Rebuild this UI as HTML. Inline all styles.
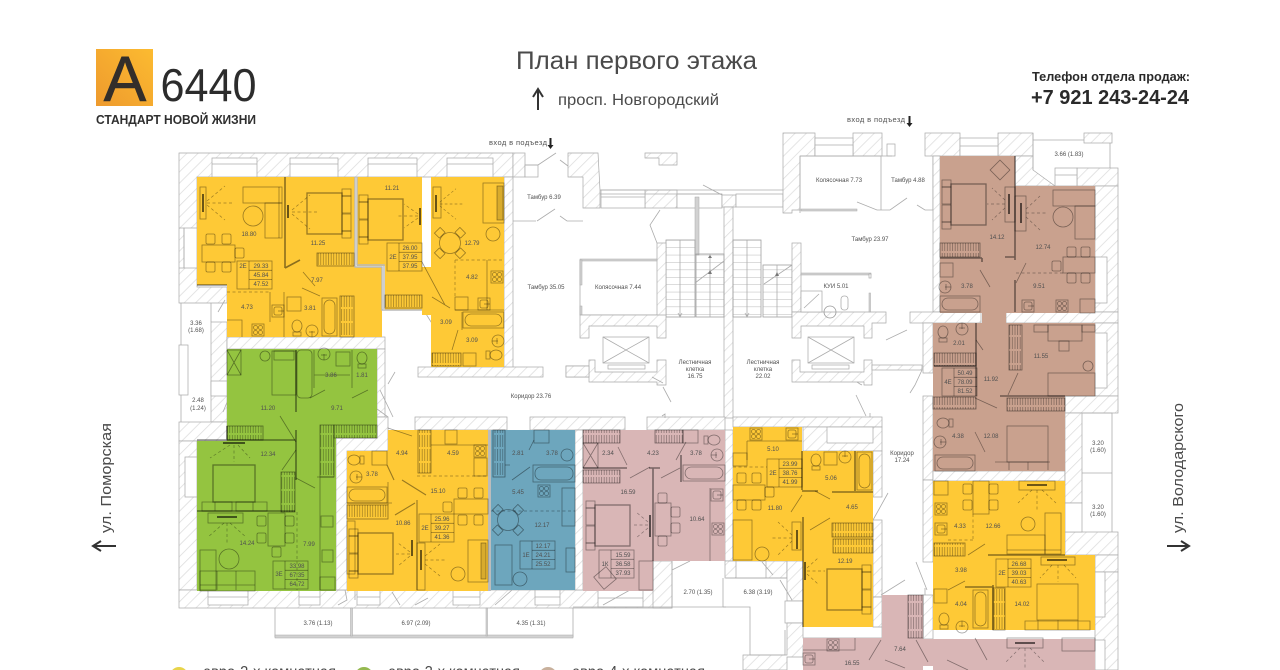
<!DOCTYPE html>
<html lang="ru"><head><meta charset="utf-8"><title>План первого этажа</title>
<style>
html,body{margin:0;padding:0;background:#fff;width:1280px;height:670px;overflow:hidden}
svg{display:block}
text{font-family:"Liberation Sans Narrow","Liberation Sans",sans-serif;fill:#505050;text-anchor:middle;font-size:6px}
.s{font-family:"Liberation Sans",sans-serif}
.w{fill:url(#h);stroke:#a8a8a8;stroke-width:.7}
.r{fill:#fff;stroke:#a8a8a8;stroke-width:.7}
.l{fill:none;stroke:#acacac;stroke-width:.8}
.g{fill:#d2d2d2;stroke:#a8a8a8;stroke-width:.5}
.f{fill:none;stroke:#000;stroke-opacity:.4;stroke-width:.8}
.t{fill:none;stroke:#000;stroke-opacity:.45;stroke-width:1.6}
.d{fill:none;stroke:#000;stroke-opacity:.38;stroke-width:.7;stroke-dasharray:3 2.5}
.b{fill:none;stroke:#000;stroke-opacity:.65;stroke-width:1.8}
.wd{fill:url(#wa);stroke:#000;stroke-opacity:.45;stroke-width:.8}
</style></head><body>
<svg width="1280" height="670" viewBox="0 0 1280 670" xmlns="http://www.w3.org/2000/svg">
<defs>
<pattern id="h" patternUnits="userSpaceOnUse" width="8" height="8" patternTransform="rotate(45)"><rect width="8" height="8" fill="#fff"/><line x1="0" y1="0" x2="0" y2="8" stroke="#dcdcdc" stroke-width="1.5"/></pattern>
<pattern id="wa" patternUnits="userSpaceOnUse" width="2.6" height="14"><line x1="1" y1="1" x2="1" y2="13" stroke="#000" stroke-opacity=".4" stroke-width=".7"/></pattern>
<pattern id="st" patternUnits="userSpaceOnUse" width="29" height="7.4" x="0" y="240"><line x1="0" y1="0" x2="29" y2="0" stroke="#a0a0a0" stroke-width=".8"/></pattern>
<linearGradient id="lg" x1="0" y1="1" x2="1" y2="0"><stop offset="0" stop-color="#ee9a2e"/><stop offset="1" stop-color="#fcbb30"/></linearGradient>
<g id="bed"><rect width="35" height="41" stroke-width="1.3"/><rect x="35" y="3" width="9" height="17"/><rect x="35" y="21" width="9" height="17"/><rect x="35" y="-4" width="9" height="7"/><rect x="35" y="38" width="9" height="7"/></g>
<g id="bath"><rect width="40" height="16"/><rect x="2" y="2" width="36" height="12" rx="6"/></g>
<g id="baths"><rect width="15" height="38"/><rect x="2" y="2" width="11" height="34" rx="5.5"/></g>
<g id="st4"><rect width="12" height="12"/><circle cx="3.5" cy="3.5" r="2"/><circle cx="8.5" cy="3.5" r="2"/><circle cx="3.5" cy="8.5" r="2"/><circle cx="8.5" cy="8.5" r="2"/></g>
<g id="sk"><rect width="12" height="12"/><rect x="2" y="2" width="8" height="8" rx="2"/><line x1="6" y1="6" x2="12" y2="6"/></g>
<g id="tl"><ellipse cx="0" cy="0" rx="5" ry="6"/><rect x="-4" y="6" width="8" height="4"/></g>
<g id="rs"><circle cx="0" cy="0" r="6"/><line x1="0" y1="0" x2="0" y2="6"/><line x1="-3" y1="1" x2="3" y2="1"/></g>
<g id="ch"><rect width="9" height="10" rx="1.5"/></g>
<g id="tb"><rect width="35" height="28"/><line x1="12" y1="0" x2="12" y2="28"/><line x1="12" y1="9.3" x2="35" y2="9.3"/><line x1="12" y1="18.6" x2="35" y2="18.6"/></g>
<g id="rt"><circle cx="0" cy="0" r="10.5"/><rect x="-4" y="-18" width="8" height="7" transform="rotate(45)"/><rect x="-4" y="-18" width="8" height="7" transform="rotate(135)"/><rect x="-4" y="-18" width="8" height="7" transform="rotate(225)"/><rect x="-4" y="-18" width="8" height="7" transform="rotate(315)"/></g>
<g id="fanR"><path class="d" d="M2 0L28 0M2 -2L20 -17M2 2L20 17"/></g>
</defs>
<rect width="1280" height="670" fill="#fff"/>

<!-- walls west block -->
<path class="w" d="M179 153H513V177H197V287H227V303H179Z"/>
<rect class="w" x="504" y="177" width="9" height="192"/>
<rect class="w" x="513" y="153" width="12" height="24"/>
<rect class="r" x="525" y="165" width="13" height="12"/>
<path class="w" d="M568 153H598L600 190V208H583V177H568Z"/>
<path class="w" d="M645 153H677V165H659V158H645Z"/>
<rect class="w" x="645" y="190" width="32" height="18"/>
<rect class="r" x="601" y="190" width="44" height="18"/><line class="l" x1="601" y1="197" x2="645" y2="197"/>
<rect class="r" x="677" y="194" width="45" height="14"/>
<rect class="g" x="695" y="197" width="4" height="58"/>
<path class="l" d="M600 190H783M600 194H722"/>
<rect class="w" x="722" y="195" width="14" height="12"/>
<rect class="w" x="724" y="207" width="9" height="211"/>
<rect class="r" x="736" y="194" width="47" height="13"/>
<path class="w" d="M783 133H815V156H800V210H792V213H783Z"/>
<rect class="w" x="853" y="133" width="29" height="23"/>
<rect class="r" x="815" y="138" width="38" height="18"/><rect class="r" x="815" y="145" width="38" height="11"/>
<rect class="r" x="887" y="144" width="8" height="12"/>
<path class="l" d="M800 156H881V210M882 156H892M933 156V210M800 156V213"/>
<rect class="g" x="801" y="209" width="56" height="2"/><path class="l" d="M857 202L877 210H890L907 198"/><path class="l" d="M917 205L925 210H933"/>
<!-- west lower -->
<rect class="w" x="211" y="322" width="16" height="100"/>
<rect class="w" x="179" y="422" width="48" height="19"/>
<rect class="w" x="179" y="441" width="18" height="149"/>
<rect class="w" x="179" y="590" width="493" height="18"/>
<path class="l" d="M181 303V422M211 303V322"/>
<rect class="r" x="179" y="345" width="9" height="50"/>
<rect class="r" x="211" y="381" width="16" height="15"/>
<rect class="r" x="184" y="228" width="13" height="40"/><path class="l" d="M179 228H184V268H179"/>
<rect class="r" x="185" y="457" width="12" height="40"/>
<rect class="w" x="227" y="337" width="158" height="12"/>
<rect class="w" x="377" y="349" width="8" height="68"/>
<rect class="w" x="418" y="367" width="125" height="10"/>
<rect class="w" x="566" y="366" width="23" height="11"/>
<!-- top windows -->
<g>
<rect class="r" x="212" y="158" width="45" height="19"/><rect class="r" x="290" y="158" width="48" height="19"/><rect class="r" x="368" y="158" width="49" height="19"/><rect class="r" x="447" y="158" width="46" height="19"/>
<path class="l" d="M212 164H257M290 164H338M368 164H417M447 164H493"/>
<rect class="r" x="208" y="590" width="40" height="15"/><rect class="r" x="299" y="590" width="21" height="15"/><rect class="r" x="357" y="590" width="23" height="15"/><rect class="r" x="453" y="590" width="27" height="15"/><rect class="r" x="535" y="590" width="25" height="15"/><rect class="r" x="598" y="590" width="45" height="17"/>
<path class="l" d="M208 597H248M299 597H320M357 597H380M453 597H480M535 597H560M598 598H643"/>
</g>
<!-- south block top -->
<rect class="w" x="415" y="417" width="92" height="13"/>
<path class="w" d="M377 417H388V451H347V590H336V438H377Z"/>
<rect class="w" x="530" y="417" width="95" height="13"/>
<rect class="w" x="647" y="417" width="78" height="13"/>
<rect class="w" x="733" y="417" width="149" height="10"/>
<rect class="w" x="803" y="427" width="79" height="24"/>
<rect class="r" x="827" y="427" width="46" height="16"/>
<rect class="w" x="873" y="451" width="9" height="46"/>
<rect class="w" x="873" y="520" width="9" height="77"/>
<rect class="w" x="725" y="430" width="8" height="131"/>
<rect class="w" x="575" y="430" width="8" height="160"/>
<rect class="w" x="653" y="561" width="19" height="47"/>
<rect class="w" x="725" y="561" width="62" height="17"/>
<rect class="r" x="736" y="561" width="30" height="17"/>
<rect class="w" x="787" y="561" width="16" height="40"/>
<rect class="r" x="785" y="601" width="18" height="22"/>
<path class="w" d="M787 623H803V638H882V627H873V597H882V638H884V645H803V657H787V670H743V655H787Z"/>
<!-- balconies -->
<path class="l" d="M275 608V637H573V608M672 561V607M723 578V607M573 607H750V655H785V630"/>
<rect class="g" x="275" y="635" width="298" height="3"/><rect class="g" x="350.5" y="608" width="2" height="28"/><rect class="g" x="486" y="608" width="1.5" height="28"/>
<path class="l" d="M723 607H726M726 578H787"/>
<!-- stairs -->
<rect x="666" y="240" width="29" height="77" fill="url(#st)" stroke="#a0a0a0" stroke-width=".8"/>
<rect x="696" y="254" width="28" height="63" fill="url(#st)" stroke="#a0a0a0" stroke-width=".8"/>
<rect x="733" y="240" width="28" height="77" fill="url(#st)" stroke="#a0a0a0" stroke-width=".8"/>
<rect x="763" y="265" width="29" height="52" fill="url(#st)" stroke="#a0a0a0" stroke-width=".8"/>
<path class="l" d="M680 240V317M710 254V317M747 240V317M777 265V317M695 283L724 261M764 284L792 265M678 313L680 317L682 313M745 313L747 317L749 313"/>
<path d="M710 255l-2 3h4zM710 270l-2 4h4zM777 272l-2 4h4z" fill="#777"/>
<!-- centre walls -->
<rect class="w" x="657" y="243" width="9" height="74"/>
<rect class="w" x="792" y="243" width="9" height="69"/>
<path class="l" d="M657 260H580V315H657"/>
<rect class="g" x="580" y="259" width="77" height="2"/><rect class="g" x="580" y="260" width="2" height="25"/><rect class="g" x="580" y="306" width="2" height="9"/>
<path class="w" d="M580 315H666V338H657V326H589V338H580Z"/>
<path class="w" d="M589 360H595V372H657V360H666V385H657V382H589Z"/>
<path class="w" d="M566 366H589V377H566Z"/>
<rect class="r" x="603" y="337" width="46" height="26"/><path class="l" d="M603 337L649 363M649 337L603 363"/><rect class="r" x="608" y="365" width="37" height="4"/>
<path class="w" d="M792 312H886V323H872V338H864V326H801V338H792Z"/>
<path class="w" d="M792 360H800V372H864V360H872V385H864V382H792Z"/>
<rect class="r" x="808" y="337" width="46" height="26"/><path class="l" d="M808 337L854 363M854 337L808 363"/><rect class="r" x="812" y="365" width="37" height="4"/>
<rect class="g" x="801" y="273" width="70" height="2"/><rect class="r" x="869" y="274" width="2" height="4"/><rect class="g" x="869" y="293" width="1.5" height="19"/>
<rect class="r" x="801" y="291" width="21" height="21"/><path class="l" d="M804 308L819 294"/>
<circle cx="830" cy="312" r="6" fill="none" stroke="#999" stroke-width=".8"/><rect class="l" x="841" y="296" width="7" height="14" rx="3"/>
<rect class="w" x="872" y="365" width="50" height="5"/>
<!-- door leaves -->
<path class="l" d="M538 165L556 153M560 160L568 166M537 221L555 209M560 216L567 221H583M513 221H536M657 243L650 225L660 210M703 185L722 195M652 377L663 383M663 387L671 402M662 416L665 414V418M857 382L860 384L862 385M856 395L866 416M870 417V413M907 330L886 340M922 370L915 385L910 393M388 417L377 409M338 605L347 600L345 590M355 590V600M392 592L400 605M415 605L428 598M495 605L512 590M603 605L630 590M672 570L690 561M773 575L762 562M780 580L792 600M881 595L905 580M925 600V588M873 520L888 493M916 562L927 590M380 390L393 417M395 372L388 384M225 300L218 312M230 395L223 412M421 306L438 333M538 165H525"/>
<!-- east walls -->
<rect class="w" x="925" y="133" width="35" height="23"/>
<rect class="w" x="998" y="133" width="35" height="23"/>
<rect class="r" x="960" y="138" width="38" height="18"/><line class="l" x1="960" y1="146" x2="998" y2="146"/>
<path class="w" d="M1015 156H1033V170L1055 186H1015Z"/>
<rect class="w" x="1077" y="168" width="41" height="18"/>
<rect class="r" x="1055" y="168" width="22" height="18"/><line class="l" x1="1055" y1="175" x2="1077" y2="175"/>
<rect class="w" x="1095" y="186" width="23" height="126"/>
<path class="l" d="M1033 133V170M1110 143V168M1033 140H1084"/>
<rect class="w" x="1084" y="133" width="28" height="10"/>
<rect class="w" x="933" y="156" width="7" height="156"/>
<rect class="w" x="910" y="312" width="71" height="11"/>
<rect class="w" x="1006" y="312" width="112" height="11"/>
<rect class="w" x="923" y="323" width="10" height="50"/>
<rect class="w" x="923" y="396" width="10" height="84"/>
<rect class="w" x="923" y="480" width="10" height="82"/>
<rect class="w" x="923" y="595" width="10" height="44"/>
<rect class="w" x="933" y="471" width="132" height="10"/>
<rect class="w" x="1095" y="323" width="23" height="73"/>
<rect class="r" x="1095" y="257" width="12" height="46"/>
<rect class="r" x="1095" y="333" width="12" height="55"/>
<rect class="w" x="1065" y="396" width="53" height="17"/>
<rect class="w" x="1065" y="413" width="17" height="90"/>
<rect class="w" x="1065" y="532" width="53" height="23"/><rect class="w" x="1095" y="555" width="23" height="17"/>
<rect class="r" x="1065" y="503" width="17" height="29"/>
<path class="l" d="M1082 413H1112V532M1082 473H1112"/>
<rect class="w" x="1095" y="572" width="23" height="98"/>
<rect class="r" x="1095" y="572" width="10" height="45"/>
<rect class="r" x="1095" y="640" width="10" height="30"/>

<!-- colour areas -->
<path fill="#fec936" d="M197 177H355V267H382V337H227V285H197Z"/>
<path fill="#fec936" d="M357 177H422V267H431V177H504V367H431V315H422V288H422V310H385V266H357Z"/>
<path fill="#94c440" d="M227 349H377V438H336V591H197V441H227Z"/>
<path fill="#fec936" d="M388 430H488V591H347V451H388Z"/>
<path fill="#6da6bd" d="M491 430H575V590H491Z"/>
<path fill="#d9b6b6" d="M583 430H725V561H653V591H583Z"/>
<path fill="#fec936" d="M733 427H802V451H873V627H803V561H733Z"/>
<path fill="#c9a18e" d="M940 156H1015V186H1095V313H1006V323H1095V396H1065V471H933V323H982V313H940Z"/>
<path fill="#fec936" d="M933 481H1065V555H1095V630H933Z"/>
<path fill="#d9b6b6" d="M803 638H882V595H923V639H1095V670H803Z"/>
<rect x="923" y="666" width="10" height="4" fill="#fff"/>
<rect x="488" y="430" width="3" height="161" fill="#bcbcbc"/>
<path fill="none" stroke="#b9b9b9" stroke-width="1.4" d="M355 177V267H382V310H422M357 177V265H384V309"/>

<!-- Apt 1 yellow -->
<g class="f">
<path class="t" d="M285 177V268M285 268L300 260M197 285H227"/>
<rect x="243" y="187" width="39" height="16"/><rect x="265" y="203" width="17" height="35"/><line x1="279" y1="187" x2="279" y2="238"/>
<circle cx="253" cy="216" r="10"/>
<rect x="200" y="187" width="6" height="32"/>
<line class="b" x1="203" y1="194" x2="203" y2="212"/><use href="#fanR" transform="translate(205,203)"/>
<line class="b" x1="288" y1="205" x2="288" y2="218"/><use href="#fanR" transform="translate(290,212)"/>
<use href="#bed" x="307" y="193"/>
<rect x="202" y="245" width="33" height="17"/><use href="#ch" x="206" y="234"/><use href="#ch" x="222" y="234"/><use href="#ch" x="206" y="262"/><use href="#ch" x="222" y="262"/><use href="#ch" x="235" y="248"/>
<rect class="wd" x="317" y="253" width="37" height="13"/>
<use href="#tb" x="237" y="261"/>
<path class="d" d="M227 292H270"/>
<path d="M270 292V322M284 292V337M303 272L315 286M302 288L320 296"/>
<use href="#sk" x="272" y="305"/><use href="#st4" x="252" y="324"/>
<rect x="287" y="297" width="14" height="14"/><use href="#tl" x="297" y="326"/><use href="#rs" x="312" y="331"/>
<use href="#baths" x="322" y="298"/><rect class="wd" x="340" y="296" width="14" height="41"/>
<path d="M227 320H242V337"/>
</g>
<!-- Apt 2 yellow -->
<g class="f">
<use href="#bed" transform="translate(403,199) scale(-1,1)"/>
<line class="b" x1="420" y1="208" x2="420" y2="225"/><path class="d" d="M418 216H396M418 214L404 204M418 218L404 228"/>
<rect class="wd" x="385" y="295" width="37" height="13"/>
<use href="#tb" x="387" y="243"/>
<path d="M422 262L445 305M432 297L450 308"/>
<rect x="483" y="183" width="21" height="40"/><rect x="497" y="186" width="6" height="34" fill="#000" fill-opacity=".15"/>
<circle cx="493" cy="234" r="7"/><use href="#rt" x="450" y="243"/>
<rect x="433" y="187" width="8" height="31"/><line class="b" x1="436" y1="195" x2="436" y2="212"/><use href="#fanR" transform="translate(438,204) scale(.9)"/>
<path class="d" d="M455 260V297M455 260H504"/>
<use href="#st4" x="491" y="271"/><use href="#sk" x="478" y="298"/><rect x="455" y="297" width="13" height="13"/>
<path d="M487 260V310M455 310H504M462 312V330M458 330L452 350"/>
<use href="#bath" transform="translate(463,312) scale(1.02,1)"/>
<use href="#rs" transform="translate(498,341) rotate(90)"/><use href="#tl" transform="translate(496,355) rotate(90)"/>
<rect class="wd" x="432" y="353" width="29" height="13"/><rect x="463" y="353" width="13" height="13"/>
</g>
<!-- Green -->
<g class="f">
<rect x="227" y="350" width="14" height="25"/><path d="M227 350L241 375M241 350L227 375"/>
<circle cx="265" cy="356" r="5"/><rect x="272" y="351" width="24" height="44"/><rect x="274" y="351" width="20" height="9"/>
<path class="t" d="M296 350V412"/><rect x="297" y="350" width="15" height="48" rx="4"/><path d="M314 350V388M352 350V388M314 375H350"/>
<use href="#rs" x="324" y="354"/><rect x="336" y="352" width="14" height="14"/><use href="#tl" x="362" y="358"/>
<path d="M310 398L325 390M352 398L368 390"/>
<rect class="wd" x="227" y="426" width="36" height="14"/>
<path class="t" d="M197 440H296M296 430V480M197 511H295M227 440V426"/>
<rect class="wd" x="320" y="425" width="14" height="52"/><rect class="wd" x="334" y="425" width="43" height="13"/>
<rect class="wd" x="281" y="472" width="14" height="40"/>
<path d="M280 416L296 442M296 450L282 470M296 478L315 488M317 477H334M320 477V590"/>
<rect x="213" y="465" width="42" height="37" stroke-width="1.3"/><path d="M215 502H232V511H215ZM236 502H253V511H236ZM202 502H215V511H202ZM253 502H267V511H253Z"/>
<line class="b" x1="223" y1="443" x2="245" y2="443"/><path class="d" d="M234 445V462M230 445L210 458M238 445L250 458"/>
<rect x="208" y="513" width="35" height="10"/><line class="b" x1="217" y1="517" x2="237" y2="517"/><path class="d" d="M227 523V545M224 523L208 537M230 523L246 537"/>
<rect x="200" y="550" width="16" height="40"/><rect x="200" y="571" width="55" height="20"/><path d="M217 571V590M236 571V590M200 585H255"/>
<circle cx="229" cy="559" r="10"/>
<rect x="268" y="513" width="17" height="33"/><use href="#ch" x="257" y="516"/><use href="#ch" x="257" y="533"/><use href="#ch" x="285" y="516"/><use href="#ch" x="285" y="533"/><use href="#ch" x="272" y="547"/>
<path class="d" d="M297 512V590"/>
<rect x="321" y="516" width="12" height="11"/><rect x="322" y="550" width="11" height="12"/><rect x="320" y="577" width="15" height="13"/>
<use href="#tb" x="273" y="561"/>
</g>
<!-- Yellow 2 -->
<g class="f">
<use href="#tl" transform="translate(354,460) rotate(-90)"/><rect x="372" y="451" width="15" height="14"/>
<use href="#rs" transform="translate(356,477) rotate(-90)"/>
<use href="#bath" x="347" y="487"/><path d="M388 482V505M347 503H392"/>
<rect class="wd" x="347" y="505" width="41" height="14"/>
<use href="#bed" transform="translate(393,533) scale(-1,1)"/>
<rect x="347" y="521" width="8" height="53" fill="none"/>
<path d="M387 465L394 480M402 480L426 495M395 515L415 503M417 500V590" stroke-width="1.1"/>
<line class="b" x1="412" y1="540" x2="412" y2="556"/><path class="d" d="M410 554H395M410 552L398 543M410 556L398 566"/>
<rect x="417" y="543" width="8" height="47"/><line class="b" x1="421" y1="550" x2="421" y2="570"/><path class="d" d="M425 560H445M425 556L440 544M425 564L440 576"/>
<circle cx="458" cy="574" r="7"/><rect x="468" y="540" width="20" height="42"/><rect x="481" y="543" width="5" height="36" fill="#000" fill-opacity=".15"/>
<rect x="454" y="499" width="34" height="15"/><use href="#ch" x="458" y="488"/><use href="#ch" x="474" y="488"/><use href="#ch" x="458" y="515"/><use href="#ch" x="474" y="515"/><use href="#ch" x="443" y="502"/>
<rect class="wd" x="418" y="430" width="13" height="43"/><path d="M431 445H488"/>
<rect x="445" y="430" width="12" height="14"/><use href="#st4" x="474" y="445"/><rect x="474" y="458" width="13" height="18"/>
<path class="d" d="M417 476H488"/><use href="#tb" x="419" y="514"/>
<path d="M388 428L412 436"/>
</g>
<!-- Blue -->
<g class="f">
<rect class="wd" x="493" y="430" width="12" height="47"/><path d="M505 465H510"/>
<rect x="534" y="430" width="15" height="13"/><circle cx="567" cy="455" r="6"/>
<rect x="533" y="465" width="42" height="17"/><rect x="535" y="467" width="38" height="13" rx="6"/>
<use href="#st4" x="538" y="485"/><rect x="562" y="488" width="13" height="38"/>
<use href="#rt" x="508" y="520"/><path class="d" d="M491 511H575"/>
<rect x="495" y="545" width="17" height="40"/><circle cx="520" cy="579" r="7"/>
<rect x="566" y="548" width="9" height="24"/>
<use href="#tb" x="520" y="541"/>
<path d="M529 450L534 440M512 480L530 467"/>
</g>
<!-- Pink -->
<g class="f">
<rect class="wd" x="583" y="430" width="37" height="13"/><rect class="wd" x="655" y="430" width="28" height="13"/><rect x="683" y="430" width="15" height="13"/>
<use href="#tl" transform="translate(714,440) rotate(90)"/><use href="#rs" transform="translate(717,455) rotate(90)"/>
<use href="#bath" transform="translate(683,465) scale(1.05,1)"/>
<rect x="583" y="443" width="15" height="25"/><path d="M583 443L598 468M598 443L583 468"/>
<rect class="wd" x="583" y="470" width="37" height="13"/>
<path class="t" d="M583 468H627M653 468V561M649 468H660M681 455V482"/>
<path d="M618 447L627 465M630 478L650 467M661 478L680 468M676 460L686 442"/>
<use href="#sk" x="711" y="489"/><use href="#st4" x="712" y="523"/><path d="M710 488V561"/>
<rect x="655" y="503" width="16" height="33"/><use href="#ch" x="658" y="493"/><use href="#ch" x="658" y="536"/><use href="#ch" x="671" y="507"/><use href="#ch" x="671" y="523"/>
<use href="#bed" transform="translate(630,505) scale(-1,1)"/>
<line class="b" x1="650" y1="515" x2="650" y2="537"/><path class="d" d="M648 525H632M648 522L636 512M648 528L636 538"/>
<rect x="597" y="570" width="16" height="16" transform="rotate(-40 605 578)"/>
<rect x="639" y="561" width="14" height="29"/>
<use href="#tb" x="599" y="550"/>
</g>
<!-- Yellow 3 -->
<g class="f">
<use href="#st4" x="750" y="428"/><use href="#sk" x="786" y="428"/><path d="M747 441H802M747 441V460"/>
<rect x="733" y="453" width="14" height="13"/><path class="d" d="M733 467H767"/>
<rect x="733" y="485" width="32" height="15"/><use href="#ch" x="737" y="473"/><use href="#ch" x="752" y="473"/><use href="#ch" x="737" y="500"/><use href="#ch" x="752" y="500"/><use href="#ch" x="765" y="487"/>
<rect x="733" y="520" width="19" height="40"/><circle cx="762" cy="554" r="7"/>
<rect x="792" y="522" width="9" height="28"/><line class="b" x1="797" y1="530" x2="797" y2="549"/><path class="d" d="M792 538H770M792 535L778 522M792 541L778 555"/>
<path class="t" d="M802 451V490M802 491H818M832 492H873M803 517V627M855 451V491"/>
<path d="M802 495L791 512M815 491L830 499M810 530L830 518"/>
<use href="#tl" x="816" y="460"/><rect x="824" y="452" width="13" height="13"/><use href="#rs" transform="translate(845,457) rotate(180)"/>
<use href="#baths" x="857" y="452"/>
<rect class="wd" x="832" y="523" width="41" height="14"/><rect class="wd" x="833" y="539" width="40" height="14"/>
<use href="#bed" x="827" y="569"/>
<line class="b" x1="805" y1="562" x2="805" y2="580"/><path class="d" d="M807 571H825M807 568L818 558M807 574L818 584"/>
<use href="#tb" x="767" y="459"/>
</g>
<!-- Brown -->
<g class="f">
<rect x="993" y="163" width="14" height="14" transform="rotate(45 1000 170)"/>
<use href="#bed" transform="translate(986,184) scale(-1,1)"/>
<rect x="1005" y="187" width="10" height="35"/><line class="b" x1="1009" y1="194" x2="1009" y2="214"/><path class="d" d="M1005 204H987M1005 200L992 188M1005 208L992 220"/>
<rect x="1015" y="196" width="11" height="35"/><line class="b" x1="1021" y1="203" x2="1021" y2="223"/><path class="d" d="M1026 213H1048M1026 209L1040 196M1026 217L1040 230"/>
<path class="t" d="M1015 156V260M1005 257H1015M1015 280V312"/>
<rect x="1053" y="190" width="42" height="16"/><rect x="1075" y="206" width="20" height="33"/><circle cx="1063" cy="217" r="10"/>
<rect x="1063" y="257" width="32" height="16"/><use href="#ch" x="1067" y="247"/><use href="#ch" x="1081" y="247"/><use href="#ch" x="1067" y="273"/><use href="#ch" x="1081" y="273"/><use href="#ch" x="1052" y="261"/>
<path class="d" d="M1016 273H1063"/><path d="M1016 283L1026 263M980 270L990 287"/>
<use href="#sk" x="1022" y="300"/><use href="#st4" x="1056" y="300"/><rect x="1080" y="299" width="15" height="14"/>
<rect class="wd" x="940" y="243" width="40" height="14"/><rect x="940" y="263" width="13" height="14"/>
<use href="#rs" transform="translate(945,287) rotate(-90)"/><use href="#bath" transform="translate(940,296)"/>
<path class="t" d="M940 258H982M982 258V262M976 323V396M934 366H976"/>
<use href="#tl" x="943" y="332"/><use href="#rs" transform="translate(962,329) rotate(180)"/>
<rect class="wd" x="934" y="353" width="42" height="13"/><rect class="wd" x="1009" y="325" width="13" height="45"/>
<rect class="wd" x="933" y="397" width="43" height="12"/><rect class="wd" x="1007" y="398" width="58" height="13"/>
<path class="t" d="M1000 396H1065"/><path d="M976 340L983 350M975 398L997 408M1008 395L1018 373"/>
<rect x="1034" y="325" width="14" height="7"/><rect x="1082" y="325" width="13" height="7"/><rect x="1048" y="325" width="34" height="16"/><rect x="1059" y="341" width="10" height="10"/>
<rect x="1048" y="373" width="47" height="23"/><circle cx="1088" cy="366" r="5"/>
<rect x="1007" y="426" width="41" height="36"/><path d="M995 462H1050M1009 462V470M1028 462V470M1048 462V470"/>
<use href="#tl" transform="translate(943,423) rotate(-90)"/><use href="#rs" transform="translate(940,442) rotate(-90)"/><use href="#bath" x="935" y="455"/>
<path d="M975 432L985 452"/>
<use href="#tb" x="942" y="368"/>
</g>
<!-- Yellow 4 -->
<g class="f">
<rect x="973" y="481" width="16" height="33"/><use href="#ch" x="963" y="484"/><use href="#ch" x="963" y="500"/><use href="#ch" x="989" y="484"/><use href="#ch" x="989" y="500"/>
<rect x="1019" y="481" width="36" height="9"/><line class="b" x1="1027" y1="485" x2="1047" y2="485"/><path class="d" d="M1037 490V510M1032 490L1018 503M1042 490L1056 503"/>
<circle cx="1028" cy="524" r="7"/><rect x="1045" y="513" width="16" height="41"/><rect x="1007" y="535" width="38" height="19"/><path d="M1007 550H1061"/>
<rect x="934" y="481" width="14" height="14"/><use href="#st4" x="935" y="503"/><use href="#sk" x="935" y="523"/>
<rect class="wd" x="934" y="543" width="31" height="13"/><path class="d" d="M973 514V540M948 540H973"/>
<path class="t" d="M988 555H1065M965 587H993M993 585V630"/><path d="M968 555L985 544M948 590L965 581"/>
<rect x="1041" y="557" width="34" height="8"/><line class="b" x1="1047" y1="560" x2="1067" y2="560"/><path class="d" d="M1058 565V582M1052 565L1040 578M1064 565L1076 578"/>
<rect x="1037" y="584" width="41" height="36"/><path d="M1025 621H1090V630H1025ZM1038 620V630M1058 620V630M1078 620V630"/>
<rect class="wd" x="993" y="588" width="12" height="42"/>
<use href="#baths" x="973" y="590"/><rect x="934" y="589" width="13" height="14"/>
<use href="#tl" x="944" y="619"/><use href="#rs" transform="translate(962,627) rotate(180)"/>
<use href="#tb" x="996" y="559"/>
</g>
<!-- Bottom pink -->
<g class="f">
<use href="#st4" x="827" y="639"/><use href="#sk" x="803" y="653"/>
<rect class="wd" x="908" y="595" width="15" height="43"/>
<path d="M803 650H855V638M881 640L869 660M916 640L928 662M885 660L905 668M975 638L987 660M947 660L968 670"/>
<rect x="1007" y="638" width="36" height="10"/><line class="b" x1="1015" y1="643" x2="1035" y2="643"/><path class="d" d="M1025 648V670M1020 648L1006 662M1030 648L1044 662"/>
<rect x="1062" y="638" width="33" height="13"/>
</g>

<!-- Header -->
<rect x="96" y="49" width="57" height="57" fill="url(#lg)"/>
<text class="s" x="125" y="101" style="font-size:64px;fill:#332e2a;stroke:#332e2a;stroke-width:.6">A</text>
<text class="s" x="208.500" y="101" style="font-size:46px;fill:#2c2c2c" textLength="96" lengthAdjust="spacingAndGlyphs">6440</text>
<text class="s" x="176" y="124" style="font-size:13px;font-weight:bold;fill:#2f2f2f" textLength="160" lengthAdjust="spacingAndGlyphs">СТАНДАРТ НОВОЙ ЖИЗНИ</text>
<text class="s" x="636.500" y="69" style="font-size:25px;fill:#4a4a4a" textLength="241" lengthAdjust="spacingAndGlyphs">План первого этажа</text>
<path d="M538 110V91M533 97L538 89L543 97" fill="none" stroke="#333" stroke-width="2"/>
<text class="s" x="638.500" y="105" style="font-size:15.500px;fill:#4a4a4a" textLength="161" lengthAdjust="spacingAndGlyphs">просп. Новгородский</text>
<text class="s" x="1111" y="81" style="font-size:13px;font-weight:bold;fill:#2a2a2a" textLength="158" lengthAdjust="spacingAndGlyphs">Телефон отдела продаж:</text>
<text class="s" x="1110" y="104" style="font-size:20px;font-weight:bold;fill:#2a2a2a" textLength="158" lengthAdjust="spacingAndGlyphs">+7 921 243-24-24</text>

<!-- Side labels -->
<text class="s" transform="translate(111,478) rotate(-90)" style="font-size:15px;fill:#4a4a4a" textLength="110" lengthAdjust="spacingAndGlyphs">ул. Поморская</text>
<path d="M116 546H95M101 541L93 546L101 551" fill="none" stroke="#333" stroke-width="2"/>
<text class="s" transform="translate(1183,468) rotate(-90)" style="font-size:15px;fill:#4a4a4a" textLength="130" lengthAdjust="spacingAndGlyphs">ул. Володарского</text>
<path d="M1167 546H1187M1181 541L1189 546L1181 551" fill="none" stroke="#333" stroke-width="2"/>

<!-- Legend -->
<circle cx="179" cy="676" r="9" fill="#e8d44a"/><circle cx="364" cy="676" r="9" fill="#95b950"/><circle cx="548" cy="676" r="9" fill="#c8b09c"/>
<text class="s" x="269.500" y="677" style="font-size:16px;fill:#4a4a4a" textLength="133" lengthAdjust="spacingAndGlyphs">евро-2-х комнатная</text>
<text class="s" x="454" y="677" style="font-size:16px;fill:#4a4a4a" textLength="132" lengthAdjust="spacingAndGlyphs">евро-3-х комнатная</text>
<text class="s" x="638.500" y="677" style="font-size:16px;fill:#4a4a4a" textLength="133" lengthAdjust="spacingAndGlyphs">евро-4-х комнатная</text>

<!-- Entrance labels -->
<text x="518" y="145" style="font-size:7.500px" textLength="58">вход в подъезд</text>
<path d="M550.500 138V146" stroke="#222" stroke-width="2"/><path d="M547.500 145h6l-3 4z" fill="#222"/>
<text x="876" y="122" style="font-size:7.500px" textLength="58">вход в подъезд</text>
<path d="M909.500 116V124" stroke="#222" stroke-width="2"/><path d="M906.500 123h6l-3 4z" fill="#222"/>

<!-- Room labels -->
<text x="249" y="236">18.80</text><text x="318" y="245">11.25</text><text x="392" y="190">11.21</text><text x="472" y="245">12.79</text><text x="472" y="279">4.82</text><text x="317" y="282">7.97</text><text x="247" y="309">4.73</text><text x="310" y="310">3.81</text><text x="446" y="324">3.09</text><text x="472" y="342">3.09</text><text x="331" y="377">3.86</text><text x="362" y="377">1.81</text>
<text x="196" y="325">3.36</text><text x="196" y="332">(1.68)</text><text x="198" y="402">2.48</text><text x="198" y="410">(1.24)</text>
<g style="font-size:5.500px">
<text x="243" y="268">2Е</text><text x="261" y="268">29.33</text><text x="261" y="277">45.84</text><text x="261" y="286">47.52</text>
<text x="393" y="259">2Е</text><text x="410" y="250">26.00</text><text x="410" y="259">37.95</text><text x="410" y="268">37.95</text>
<text x="279" y="576">3Е</text><text x="297" y="568">33.98</text><text x="297" y="577">67.35</text><text x="297" y="586">64.72</text>
<text x="425" y="530">2Е</text><text x="442" y="521">25.96</text><text x="442" y="530">39.27</text><text x="442" y="539">41.36</text>
<text x="526" y="557">1Е</text><text x="543" y="548">12.17</text><text x="543" y="557">24.21</text><text x="543" y="566">25.52</text>
<text x="605" y="566">1К</text><text x="623" y="557">15.59</text><text x="623" y="566">36.58</text><text x="623" y="575">37.93</text>
<text x="773" y="475">2Е</text><text x="790" y="466">23.99</text><text x="790" y="475">38.76</text><text x="790" y="484">41.99</text>
<text x="948" y="384">4Е</text><text x="965" y="375">50.49</text><text x="965" y="384">78.09</text><text x="965" y="393">81.52</text>
<text x="1002" y="575">2Е</text><text x="1019" y="566">26.68</text><text x="1019" y="575">39.03</text><text x="1019" y="584">40.63</text>
</g>
<text x="268" y="410">11.20</text><text x="337" y="410">9.71</text><text x="268" y="456">12.34</text><text x="247" y="545">14.24</text><text x="309" y="546">7.99</text>
<text x="402" y="455">4.94</text><text x="453" y="455">4.59</text><text x="372" y="476">3.78</text><text x="438" y="493">15.10</text><text x="403" y="525">10.86</text>
<text x="518" y="455">2.81</text><text x="552" y="455">3.78</text><text x="518" y="494">5.45</text><text x="542" y="527">12.17</text>
<text x="531" y="398">Коридор 23.76</text>
<text x="318" y="625">3.76 (1.13)</text><text x="416" y="625">6.97 (2.09)</text><text x="531" y="625">4.35 (1.31)</text>
<text x="544" y="199">Тамбур 6.39</text><text x="546" y="289">Тамбур 35.05</text><text x="618" y="289">Колясочная 7.44</text><text x="839" y="182">Колясочная 7.73</text><text x="908" y="182">Тамбур 4.88</text><text x="870" y="241">Тамбур 23.97</text><text x="836" y="288">КУИ 5.01</text>
<text x="695" y="364">Лестничная</text><text x="695" y="371">клетка</text><text x="695" y="378">16.75</text>
<text x="763" y="364">Лестничная</text><text x="763" y="371">клетка</text><text x="763" y="378">22.02</text>
<text x="608" y="455">2.34</text><text x="653" y="455">4.23</text><text x="696" y="455">3.78</text><text x="628" y="494">16.59</text><text x="697" y="521">10.64</text>
<text x="773" y="451">5.10</text><text x="831" y="480">5.06</text><text x="852" y="509">4.65</text><text x="775" y="510">11.80</text><text x="845" y="563">12.19</text>
<text x="698" y="594">2.70 (1.35)</text><text x="758" y="594">6.38 (3.19)</text>
<text x="902" y="455">Коридор</text><text x="902" y="462">17.24</text>
<text x="900" y="651">7.64</text><text x="852" y="665">16.55</text>
<text x="997" y="239">14.12</text><text x="1043" y="249">12.74</text><text x="967" y="288">3.78</text><text x="1039" y="288">9.51</text><text x="959" y="345">2.01</text><text x="1041" y="358">11.55</text><text x="991" y="381">11.92</text><text x="958" y="438">4.38</text><text x="991" y="438">12.08</text>
<text x="1069" y="156">3.66 (1.83)</text>
<text x="1098" y="445">3.20</text><text x="1098" y="452">(1.60)</text><text x="1098" y="509">3.20</text><text x="1098" y="516">(1.60)</text>
<text x="960" y="528">4.33</text><text x="993" y="528">12.66</text><text x="961" y="572">3.98</text><text x="961" y="606">4.04</text><text x="1022" y="606">14.02</text>
</svg>
</body></html>
